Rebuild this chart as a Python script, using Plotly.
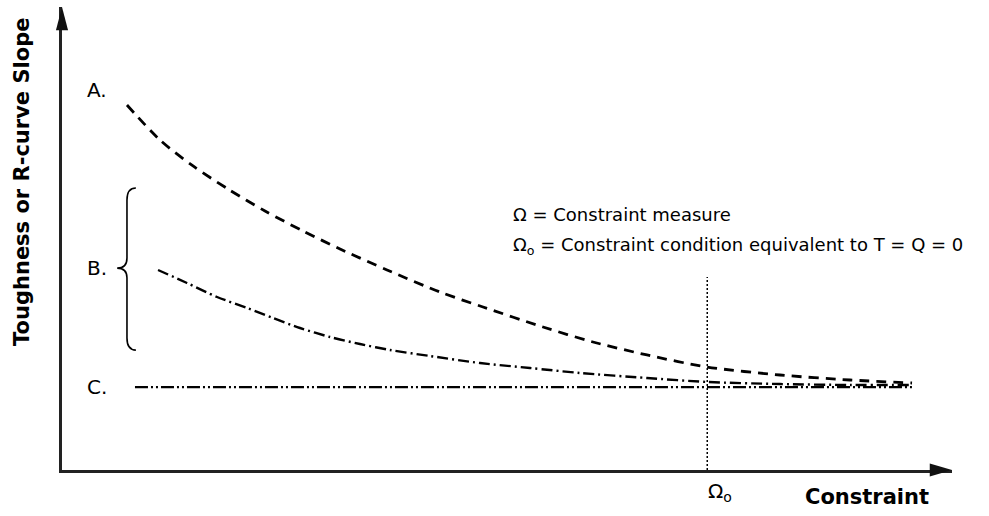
import plotly.graph_objects as go

# Curve A (dashed)
a_x = [0.730, 1.101, 1.472, 1.865, 2.281, 2.708, 3.124, 3.652, 4.247, 4.730, 5.404, 5.966, 6.573, 7.247, 8.067, 8.854, 9.551]
a_y = [7.883, 7.127, 6.566, 6.069, 5.594, 5.162, 4.773, 4.320, 3.844, 3.521, 3.089, 2.765, 2.484, 2.225, 2.052, 1.944, 1.879]
# Curve B (dash-dot)
b_x = [1.079, 1.404, 1.742, 2.079, 2.371, 2.674, 3.011, 3.348, 3.685, 4.135, 4.697, 5.258, 5.820, 6.573, 7.247, 8.067, 8.854, 9.551]
b_y = [4.320, 4.039, 3.737, 3.499, 3.283, 3.067, 2.873, 2.721, 2.592, 2.462, 2.311, 2.203, 2.095, 1.987, 1.901, 1.857, 1.836, 1.836]
# Curve C (dash-dot-dot)
c_x = [0.82, 9.55]
c_y = [1.79, 1.79]
# Omega_0 marker
omega0_x = 7.25
omega0_top = 4.17

FONT = "DejaVu Sans"
fs = 20

fig = go.Figure()
fig.add_trace(go.Scatter(x=a_x, y=a_y, mode="lines", line=dict(color="black", width=2.8, dash="10px,7px", shape="spline", smoothing=0.8), hoverinfo="skip"))
fig.add_trace(go.Scatter(x=b_x, y=b_y, mode="lines", line=dict(color="black", width=2.4, dash="11px,4px,2px,4px", shape="spline", smoothing=0.8), hoverinfo="skip"))
fig.add_trace(go.Scatter(x=c_x, y=c_y, mode="lines", line=dict(color="black", width=2.3, dash="13px,3px,2px,3px,2px,3px"), hoverinfo="skip"))
fig.add_trace(go.Scatter(x=[omega0_x, omega0_x], y=[0, omega0_top], mode="lines", line=dict(color="black", width=1.5, dash="2px,2px"), hoverinfo="skip"))

shapes = [
    # arrowheads
    dict(type="path", xref="paper", yref="paper", path="M 1,0 L 0.975,0.014 L 0.975,-0.014 Z", fillcolor="#111", line=dict(width=0)),
    dict(type="path", xref="paper", yref="paper", path="M 0,1 L 0.0068,0.95 L -0.0068,0.95 Z", fillcolor="#111", line=dict(width=0)),
    # brace
    dict(type="path", xref="x", yref="y",
         path="M 0.83,6.09 Q 0.73,6.09 0.73,5.83 L 0.73,4.58 Q 0.73,4.36 0.62,4.36 Q 0.73,4.36 0.73,4.15 L 0.73,2.85 Q 0.73,2.59 0.83,2.59",
         line=dict(color="black", width=1.6)),
]

annotations = [
    dict(x=0.39, y=8.21, text="A.", showarrow=False, font=dict(family=FONT, size=fs, color="black")),
    dict(x=0.39, y=4.36, text="B.", showarrow=False, font=dict(family=FONT, size=fs, color="black")),
    dict(x=0.39, y=1.79, text="C.", showarrow=False, font=dict(family=FONT, size=fs, color="black")),
    dict(x=5.04, y=5.51, text="Ω = Constraint measure", showarrow=False, xanchor="left",
         font=dict(family=FONT, size=18, color="black")),
    dict(x=5.04, y=4.84, text="Ω<sub>o</sub> = Constraint condition equivalent to T = Q = 0", showarrow=False, xanchor="left",
         font=dict(family=FONT, size=18, color="black")),
    dict(xref="paper", yref="paper", x=0.739, y=-0.048, xanchor="center", yanchor="middle", text="Ω<sub>o</sub>",
         showarrow=False, font=dict(family=FONT, size=fs, color="black")),
    dict(xref="paper", yref="paper", x=0.904, y=-0.058, xanchor="center", yanchor="middle", text="<b>Constraint</b>",
         showarrow=False, font=dict(family=FONT, size=21, color="black")),
    dict(xref="paper", yref="paper", x=-0.045, y=0.622, xanchor="center", yanchor="middle",
         text="<b>Toughness or R-curve Slope</b>", showarrow=False,
         textangle=-90, font=dict(family=FONT, size=21, color="black")),
]

fig.update_layout(
    width=989, height=516,
    margin=dict(l=62, r=37, t=7, b=46),
    paper_bgcolor="white", plot_bgcolor="white",
    showlegend=False,
    shapes=shapes, annotations=annotations,
    xaxis=dict(range=[0, 10], showgrid=False, zeroline=False, showticklabels=False, ticks="",
               showline=True, linecolor="#222", linewidth=2.5),
    yaxis=dict(range=[0, 10], showgrid=False, zeroline=False, showticklabels=False, ticks="",
               showline=True, linecolor="#222", linewidth=2.5),
)
fig.write_html("out.html")
